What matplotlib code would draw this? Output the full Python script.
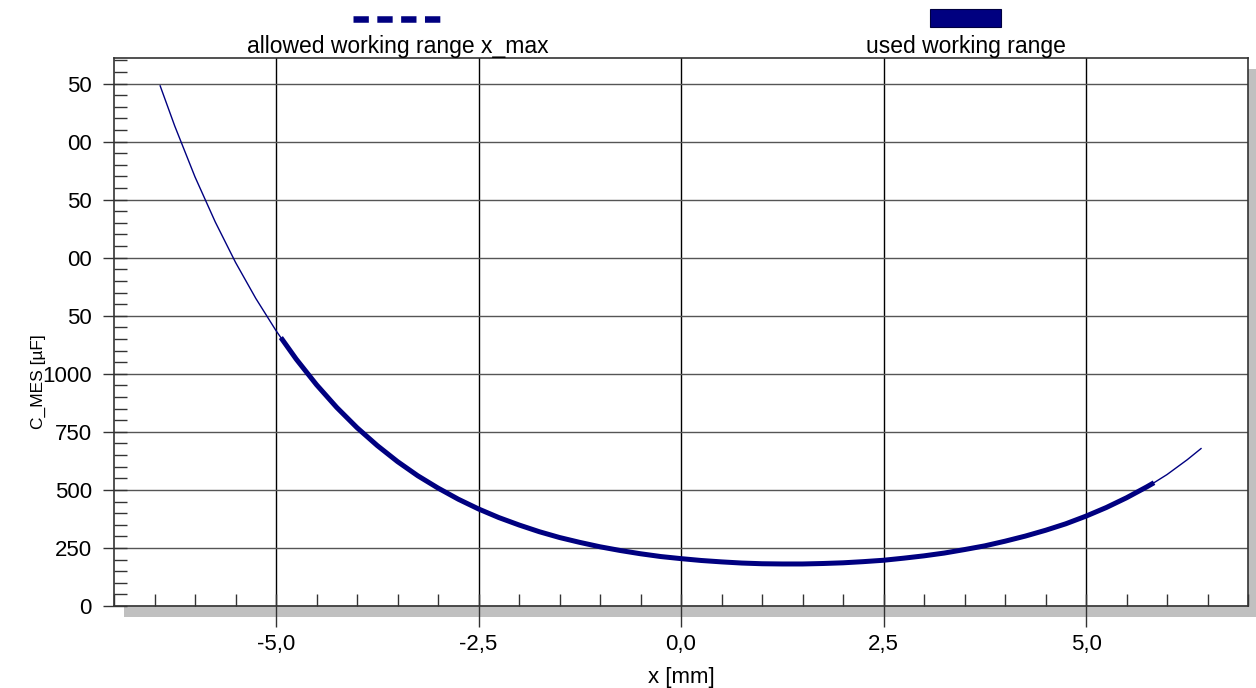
import numpy as np
import matplotlib
matplotlib.use("Agg")
import matplotlib.pyplot as plt
from matplotlib.lines import Line2D
from matplotlib.patches import Rectangle
from matplotlib.ticker import MultipleLocator, FixedLocator, FixedFormatter

plt.rcParams['font.family'] = ['Liberation Sans', 'DejaVu Sans']

# curve C_MES vs x
x_mm = [-6.43, -6.25, -6.0, -5.75, -5.5, -5.25, -5.0, -4.94, -4.75, -4.5, -4.25, -4.0,
        -3.75, -3.5, -3.25, -3.0, -2.75, -2.5, -2.25, -2.0, -1.75, -1.5, -1.25, -1.0,
        -0.75, -0.5, -0.25, 0.0, 0.25, 0.5, 0.75, 1.0, 1.25, 1.5, 1.75, 2.0, 2.25,
        2.5, 2.75, 3.0, 3.25, 3.5, 3.75, 4.0, 4.25, 4.5, 4.75, 5.0, 5.25, 5.5,
        5.75, 5.84, 6.0, 6.25, 6.42]
c_mes = [2240, 2067, 1848, 1654, 1480, 1325, 1186, 1156, 1063, 953, 855, 768,
         691, 622, 561, 508, 460, 418, 381, 349, 320, 295, 274, 255,
         239, 225, 213, 204, 196, 190, 185, 182, 181, 181, 183, 186, 191,
         197, 206, 216, 228, 243, 259, 279, 301, 326, 354, 387, 424, 466,
         513, 531, 566, 630, 678]

# used working range
used_lo, used_hi = -4.94, 5.84

x_ticks = [-5.0, -2.5, 0.0, 2.5, 5.0]
x_ticklabels = ['-5,0', '-2,5', '0,0', '2,5', '5,0']
y_ticks = [0, 250, 500, 750, 1000, 1250, 1500, 1750, 2000, 2250]
y_ticklabels = ['0', '250', '500', '750', '1000', '50', '00', '50', '00', '50']

navy = '#000080'
W, H = 1256, 688

fig = plt.figure(figsize=(W / 100, H / 100), dpi=100)
L, R, T, B = 114, 1248, 58, 606
ax = fig.add_axes([L / W, 1 - B / H, (R - L) / W, (B - T) / H])
ax.set_zorder(2)

# drop shadow behind the plot frame
fig.patches.append(Rectangle(((L + 10) / W, 1 - (B + 11) / H), (R - L) / W, (B - T) / H,
                             transform=fig.transFigure, facecolor='#c0c0c0',
                             edgecolor='none', zorder=-1))

x = np.array(x_mm)
y = np.array(c_mes)
ax.plot(x, y, color=navy, lw=1.0, zorder=3)
m = (x >= used_lo) & (x <= used_hi)
ax.plot(x[m], y[m], color=navy, lw=3.6, solid_capstyle='butt', zorder=4)

ax.set_xlim(-7.0, 7.0)
ax.set_ylim(0, 2360)

ax.xaxis.set_major_locator(FixedLocator(x_ticks))
ax.xaxis.set_major_formatter(FixedFormatter(x_ticklabels))
ax.xaxis.set_minor_locator(MultipleLocator(0.5))
ax.yaxis.set_major_locator(FixedLocator(y_ticks))
ax.yaxis.set_major_formatter(FixedFormatter(y_ticklabels))
ax.yaxis.set_minor_locator(MultipleLocator(50))
ax.xaxis.remove_overlapping_locs = False
ax.yaxis.remove_overlapping_locs = False

ax.tick_params(axis='x', which='major', direction='out', length=15, width=1,
               labelsize=16, pad=5, color='#333333')
ax.tick_params(axis='y', which='major', direction='out', length=8, width=1,
               labelsize=16, pad=8, color='#333333')
ax.tick_params(which='minor', direction='in', length=9, width=1, color='#333333')
ax.tick_params(top=False, right=False)

ax.grid(True, axis='x', which='major', color='black', lw=1.0, zorder=1)
ax.grid(True, axis='y', which='major', color='#555555', lw=1.0, zorder=1)
ax.set_axisbelow(True)
for s in ax.spines.values():
    s.set_color('#333333')
    s.set_linewidth(1.2)

fig.text(681 / W, 1 - 683 / H, 'x [mm]', ha='center', va='baseline', fontsize=16)
fig.text(38 / W, 1 - 382 / H, 'C_MES [µF]', ha='center', va='center', rotation=90,
         fontsize=12.5)

# legend above the plot
fig.add_artist(Line2D([353 / W, 443 / W], [1 - 19 / H, 1 - 19 / H], transform=fig.transFigure,
                      color=navy, lw=4.7, dashes=(2.35, 1.3), solid_capstyle='butt',
                      dash_capstyle='butt'))
fig.text(398 / W, 1 - 53 / H, 'allowed working range x_max', ha='center', va='baseline',
         fontsize=16.5)
fig.patches.append(Rectangle((930 / W, 1 - 27 / H), 71 / W, 18 / H, transform=fig.transFigure,
                             facecolor=navy, edgecolor='#000040', lw=0.8))
fig.text(966 / W, 1 - 53 / H, 'used working range', ha='center', va='baseline', fontsize=16.5)

fig.savefig('out.png', dpi=100)
